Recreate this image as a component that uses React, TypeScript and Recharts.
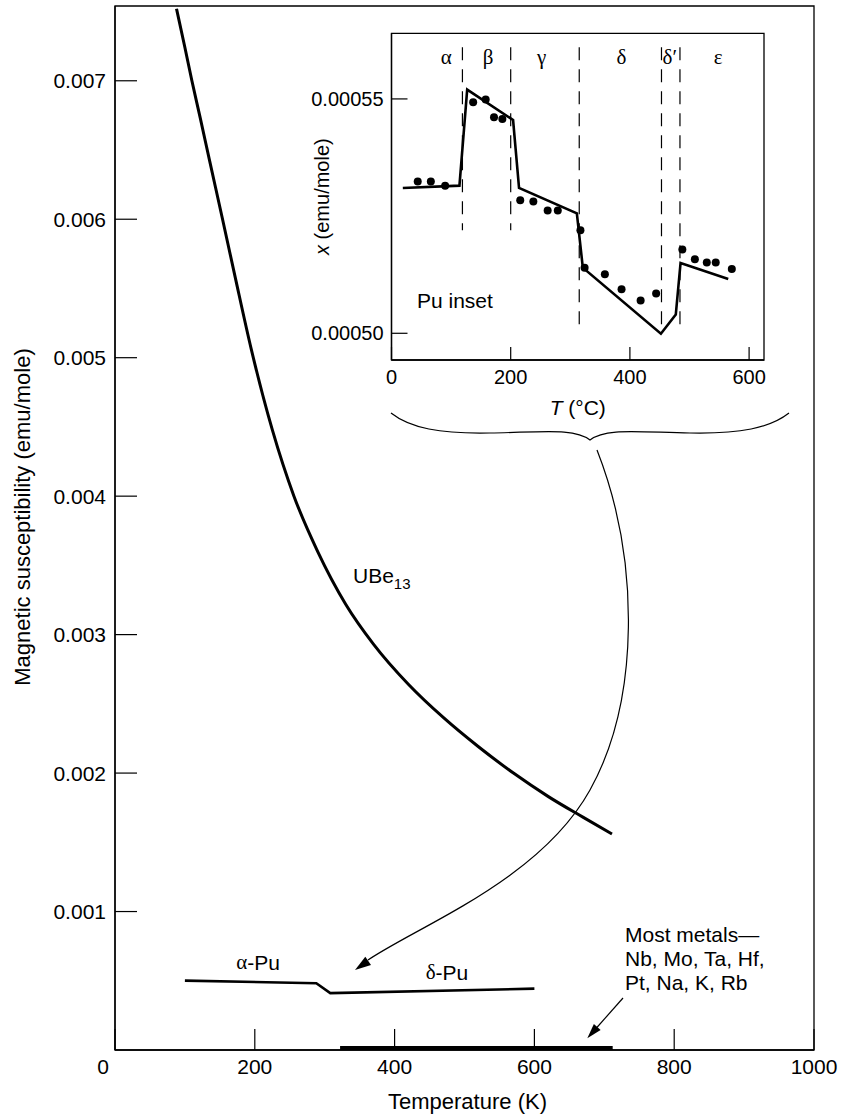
// Magnetic susceptibility vs temperature, with Pu inset
import React from 'react';
import {
    ComposedChart,
    Line,
    Scatter,
    XAxis,
    YAxis,
    ReferenceArea,
    ReferenceLine
} from 'recharts';

// ---- main chart data ----
const ubeTemp = [88, 100, 110, 122, 135, 153, 172, 195, 225, 256, 290, 330, 370, 420, 470, 520, 570, 620, 670, 711];
const ubeChi = [0.00752, 0.00724, 0.007, 0.00673, 0.00643, 0.00602, 0.00558, 0.00506, 0.00448, 0.004, 0.0036, 0.00322, 0.00293, 0.00264, 0.0024, 0.00219, 0.002, 0.00183, 0.00168, 0.00156];
const puTemp = [100, 288, 308, 600];
const puChi = [0.000501, 0.000482, 0.000411, 0.000443];
const metalsTemp = [322, 712];
const metalsChi = [0.000014, 0.000014];
const mainXTicks = [0, 200, 400, 600, 800, 1000];
const mainYTicks = [0.001, 0.002, 0.003, 0.004, 0.005, 0.006, 0.007];

// ---- inset data (Pu, T in °C) ----
const insetLineTemp = [19, 114, 127, 204, 214, 311, 321, 452, 477, 485, 565];
const insetLineChi = [0.000531, 0.0005315, 0.000552, 0.0005455, 0.000531, 0.0005256, 0.000514, 0.0004999, 0.000504, 0.000515, 0.0005116];
const insetDotTemp = [44, 66, 90, 137, 158, 172, 186, 216, 238, 262, 279, 317, 324, 358, 386, 418, 444, 488, 509, 529, 544, 571];
const insetDotChi = [0.0005324, 0.0005324, 0.0005315, 0.0005493, 0.0005499, 0.0005461, 0.0005457, 0.0005284, 0.0005281, 0.0005262, 0.0005262, 0.000522, 0.000514, 0.0005126, 0.0005094, 0.000507, 0.0005085, 0.0005179, 0.0005158, 0.0005151, 0.0005151, 0.0005137];
const phaseBounds = [119, 200, 315, 453, 484];
const phaseDashBottom = [0.000522, 0.000522, 0.0005015, 0.0005015, 0.0005015];
const phaseNames = ['α', 'β', 'γ', 'δ', 'δ′', 'ε'];
const phaseLabelTemp = [92, 162, 252, 386, 467, 548];
const insetXTicks = [0, 200, 400, 600];
const insetYTicks = [0.0005, 0.00055];

const zip = (t: number[], c: number[]) => t.map((v, i) => ({ t: v, chi: c[i] }));
const ubeData = zip(ubeTemp, ubeChi);
const puData = zip(puTemp, puChi);
const metalsData = zip(metalsTemp, metalsChi);
const insetLine = zip(insetLineTemp, insetLineChi);
const insetDots = zip(insetDotTemp, insetDotChi);

// layout
const W = 848;
const H = 1116;
const M_LEFT = 115, M_RIGHT = 814, M_TOP = 6, M_BOTTOM = 1050;
const Y_MAX = 0.00754;
const I_BOX = { left: 300, top: 20, width: 480, height: 400 };
const I_LEFT = 391.5, I_RIGHT = 764, I_TOP = 33.3, I_BOTTOM = 360;
const IX_MAX = 625;
const IY_MIN = 0.0004943, IY_MAX = 0.000564;

const SANS = '"Liberation Sans", Arial, Helvetica, sans-serif';
const SERIF = '"Liberation Serif", "Times New Roman", serif';

// page coords for annotations
const ix = (t: number) => I_LEFT + (t / IX_MAX) * (I_RIGHT - I_LEFT);

const arrowHead = (tx: number, ty: number, fx: number, fy: number, len = 15, half = 4.5) => {
    const dx = tx - fx, dy = ty - fy;
    const d = Math.hypot(dx, dy);
    const ux = dx / d, uy = dy / d;
    const bx = tx - ux * len, by = ty - uy * len;
    return `${tx},${ty} ${bx - uy * half},${by + ux * half} ${bx + uy * half},${by - ux * half}`;
};

const MainXTick = (props: any) => {
    const { x, y, payload } = props;
    const shift = payload.value === 0 ? -12 : 0;
    return (
        <text x={x + shift} y={y} dy="0.71em" textAnchor="middle" fontSize={21} fontFamily={SANS} fill="#000">
            {payload.value}
        </text>
    );
};

const App: React.FC = () => {
    return (
        <div style={{ position: 'relative', width: W, height: H, background: '#fff', fontFamily: SANS }}>
            <style>{'body{margin:0}'}</style>

            {/* Main chart */}
            <div style={{ position: 'absolute', left: 0, top: 0 }}>
                <ComposedChart width={W} height={H} margin={{ top: M_TOP, right: W - M_RIGHT, left: 0, bottom: 0 }}>
                    <XAxis
                        type="number"
                        dataKey="t"
                        domain={[0, 1000]}
                        ticks={mainXTicks}
                        interval={0}
                        height={H - M_BOTTOM}
                        tickSize={-21}
                        tickMargin={30}
                        tick={<MainXTick />}
                        axisLine={{ stroke: '#000', strokeWidth: 1.3 }}
                        tickLine={{ stroke: '#000', strokeWidth: 1.2 }}
                        allowDataOverflow
                    />
                    <YAxis
                        type="number"
                        dataKey="chi"
                        domain={[0, Y_MAX]}
                        ticks={mainYTicks}
                        interval={0}
                        width={M_LEFT}
                        tickSize={-22}
                        tickMargin={31}
                        tickFormatter={(v: number) => v.toFixed(3)}
                        tick={{ fontSize: 21, fill: '#000', fontFamily: SANS }}
                        axisLine={{ stroke: '#000', strokeWidth: 1.3 }}
                        tickLine={{ stroke: '#000', strokeWidth: 1.2 }}
                        allowDataOverflow
                    />
                    <ReferenceArea x1={0} x2={1000} y1={0} y2={Y_MAX} fill="none" fillOpacity={0} stroke="#000" strokeWidth={1.3} ifOverflow="visible" />

                    <Line data={ubeData} dataKey="chi" type="monotone" stroke="#000" strokeWidth={3} dot={false} isAnimationActive={false} />
                    <Line data={puData} dataKey="chi" type="linear" stroke="#000" strokeWidth={2.6} dot={false} isAnimationActive={false} />
                    <Line data={metalsData} dataKey="chi" type="linear" stroke="#000" strokeWidth={4} dot={false} isAnimationActive={false} />
                </ComposedChart>
            </div>

            {/* Pu inset */}
            <div style={{ position: 'absolute', left: I_BOX.left, top: I_BOX.top }}>
                <ComposedChart
                    width={I_BOX.width}
                    height={I_BOX.height}
                    margin={{ top: I_TOP - I_BOX.top, right: I_BOX.left + I_BOX.width - I_RIGHT, left: 0, bottom: 0 }}
                >
                    <XAxis
                        type="number"
                        dataKey="t"
                        domain={[0, IX_MAX]}
                        ticks={insetXTicks}
                        interval={0}
                        height={I_BOX.top + I_BOX.height - I_BOTTOM}
                        tickSize={-13}
                        tickMargin={23}
                        tick={{ fontSize: 20, fill: '#000', fontFamily: SANS }}
                        axisLine={{ stroke: '#000', strokeWidth: 1.3 }}
                        tickLine={{ stroke: '#000', strokeWidth: 1.2 }}
                        allowDataOverflow
                    />
                    <YAxis
                        type="number"
                        dataKey="chi"
                        domain={[IY_MIN, IY_MAX]}
                        ticks={insetYTicks}
                        interval={0}
                        width={I_LEFT - I_BOX.left}
                        tickSize={-16}
                        tickMargin={24}
                        tickFormatter={(v: number) => v.toFixed(5)}
                        tick={{ fontSize: 20, fill: '#000', fontFamily: SANS }}
                        axisLine={{ stroke: '#000', strokeWidth: 1.3 }}
                        tickLine={{ stroke: '#000', strokeWidth: 1.2 }}
                        allowDataOverflow
                    />
                    <ReferenceArea x1={0} x2={IX_MAX} y1={IY_MIN} y2={IY_MAX} fill="none" fillOpacity={0} stroke="#000" strokeWidth={1.3} ifOverflow="visible" />

                    {phaseBounds.map((t, i) => (
                        <ReferenceLine
                            key={t}
                            segment={[{ x: t, y: 0.000561 }, { x: t, y: phaseDashBottom[i] }]}
                            stroke="#000"
                            strokeWidth={1.2}
                            strokeDasharray="13 9"
                            ifOverflow="visible"
                        />
                    ))}

                    <Line data={insetLine} dataKey="chi" type="linear" stroke="#000" strokeWidth={2.6} dot={false} isAnimationActive={false} />
                    <Scatter
                        data={insetDots}
                        dataKey="chi"
                        fill="#000"
                        isAnimationActive={false}
                        shape={(p: any) => <circle cx={p.cx} cy={p.cy} r={4} fill="#000" />}
                    />
                </ComposedChart>
            </div>

            {/* annotations */}
            <svg width={W} height={H} style={{ position: 'absolute', left: 0, top: 0, pointerEvents: 'none' }}>
                {/* axis titles */}
                <text transform="translate(22,517) rotate(-90)" textAnchor="middle" dominantBaseline="central" fontSize={22} fontFamily={SANS}>
                    Magnetic susceptibility (emu/mole)
                </text>
                <text x={(M_LEFT + M_RIGHT) / 2 + 3} y={1101} textAnchor="middle" dominantBaseline="central" fontSize={22} fontFamily={SANS}>
                    Temperature (K)
                </text>

                {/* series labels */}
                <text x={353} y={583} fontSize={21} fontFamily={SANS}>
                    UBe<tspan fontSize={15} dy={6}>13</tspan>
                </text>
                <text x={258} y={962} textAnchor="middle" dominantBaseline="central" fontSize={21} fontFamily={SANS}>
                    <tspan fontFamily={SERIF}>α</tspan>-Pu
                </text>
                <text x={447} y={972} textAnchor="middle" dominantBaseline="central" fontSize={21} fontFamily={SANS}>
                    <tspan fontFamily={SERIF}>δ</tspan>-Pu
                </text>
                <text x={625} fontSize={21} fontFamily={SANS} dominantBaseline="central">
                    <tspan x={625} y={934}>Most metals—</tspan>
                    <tspan x={625} y={958}>Nb, Mo, Ta, Hf,</tspan>
                    <tspan x={625} y={982}>Pt, Na, K, Rb</tspan>
                </text>
                <line x1={623} y1={998} x2={592} y2={1033} stroke="#000" strokeWidth={1.2} />
                <polygon points={arrowHead(587.3, 1038.3, 623, 998)} fill="#000" />

                {/* inset labels */}
                {phaseNames.map((n, i) => (
                    <text key={n} x={ix(phaseLabelTemp[i])} y={57} textAnchor="middle" dominantBaseline="central" fontSize={21} fontFamily={SERIF}>
                        {n}
                    </text>
                ))}
                <text x={417} y={300} dominantBaseline="central" fontSize={21} fontFamily={SANS}>
                    Pu inset
                </text>
                <text transform={`translate(322,${(I_TOP + I_BOTTOM) / 2}) rotate(-90)`} textAnchor="middle" dominantBaseline="central" fontSize={20} fontFamily={SANS}>
                    <tspan fontStyle="italic">x</tspan> (emu/mole)
                </text>
                <text x={ix(IX_MAX / 2)} y={407} textAnchor="middle" dominantBaseline="central" fontSize={21} fontFamily={SANS}>
                    <tspan fontStyle="italic">T</tspan> (°C)
                </text>

                {/* brace */}
                <path
                    d="M391,413 C410,428 440,434 490,433 C545,432 575,428 590,440 C605,428 635,432 690,433 C740,434 770,428 789,413"
                    fill="none"
                    stroke="#000"
                    strokeWidth={1.2}
                />
                {/* curved arrow from inset down to the Pu curve */}
                <path d="M597,450 C640,560 640,700 590,790 S420,925 368,960" fill="none" stroke="#000" strokeWidth={1.2} />
                <polygon points={arrowHead(355, 970, 420, 925, 16, 5)} fill="#000" />
            </svg>
        </div>
    );
};

export default App;
